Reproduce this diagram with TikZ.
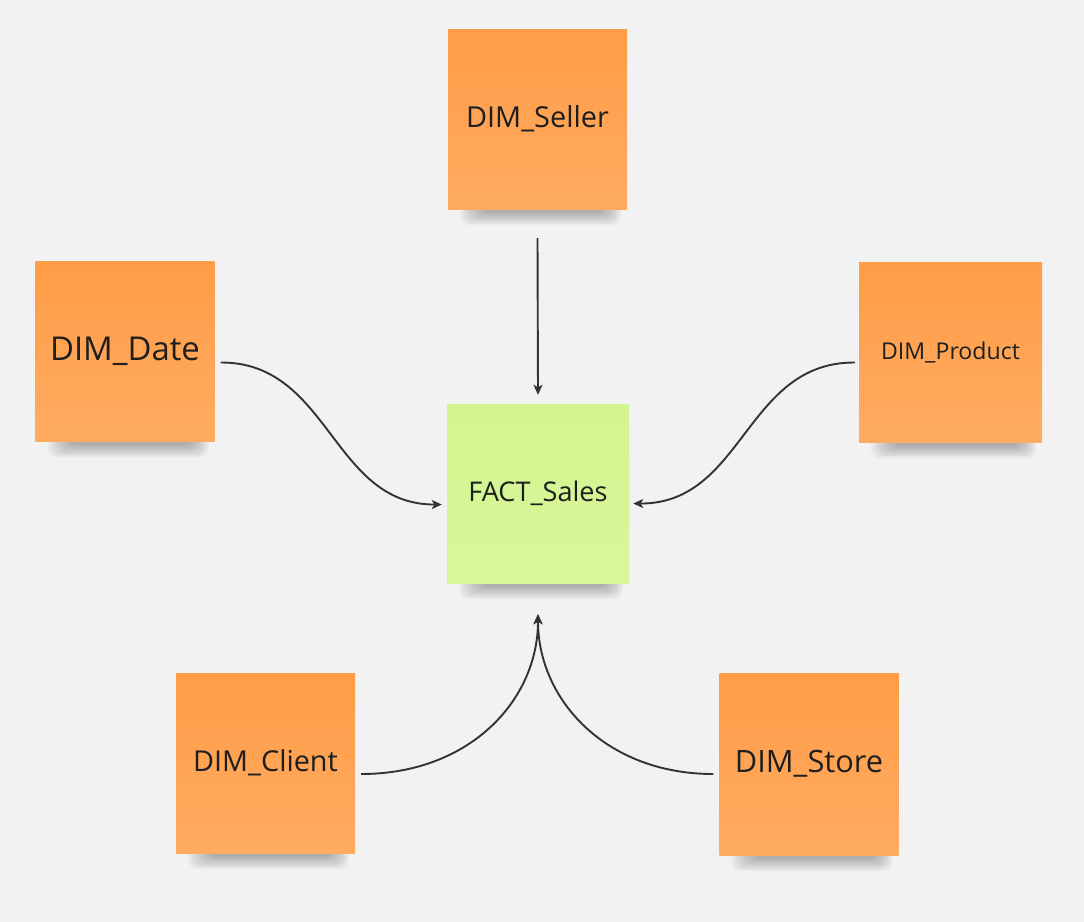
\documentclass[tikz,border=0pt]{standalone}
\usepackage{fontspec}
\setmainfont{Open Sans}
\usetikzlibrary{arrows.meta}
\pgfdeclarelayer{bglayer}
\pgfdeclarelayer{shadelayer}
\pgfsetlayers{bglayer,shadelayer,main}
\definecolor{bg}{HTML}{F2F2F2}
\definecolor{orA}{HTML}{FF9C48}
\definecolor{orB}{HTML}{FFAC60}
\definecolor{grA}{HTML}{D3F58F}
\definecolor{grB}{HTML}{D8F79A}
\definecolor{ink}{HTML}{1E1E1E}
\definecolor{wire}{HTML}{333333}
\tikzset{
  note/.style={rectangle, inner sep=0pt, text=ink, minimum width=179bp, minimum height=180bp},
  dimnote/.style={note, top color=orA, bottom color=orB},
  factnote/.style={note, top color=grA, bottom color=grB},
  link/.style={draw=wire, line width=1.9bp, -{Stealth[length=10bp,width=9bp,inset=2.5bp]}},
  shadestep/.style={fill=black, opacity=0.028, rounded corners=9bp},
}
\newcommand\myshadow[1]{%
  \begin{pgfonlayer}{shadelayer}
  \foreach \i in {0,...,10}{%
    \fill[shadestep] ([xshift={34bp-2.2bp*\i},yshift=8bp]#1.south west) rectangle ([xshift={-22bp+1.6bp*\i},yshift={-3bp-1.3bp*\i}]#1.south east);
  }
  \end{pgfonlayer}}
\begin{document}
\begin{tikzpicture}[x=1bp,y=-1bp]
\begin{pgfonlayer}{bglayer}
\fill[bg] (0,0) rectangle (1084,922);
\end{pgfonlayer}
\useasboundingbox (0,0) rectangle (1084,922);
\node[dimnote, font=\fontsize{29}{34}\selectfont] (seller) at (537.5,119) {DIM\_Seller};
\node[dimnote, font=\fontsize{33}{38}\selectfont] (date) at (125,351.5) {DIM\_Date};
\node[dimnote, minimum width=183bp, font=\fontsize{23.2}{28}\selectfont] (product) at (950.5,352.5) {DIM\_Product};
\node[factnote, minimum width=182bp, minimum height=179bp, font=\fontsize{27.2}{32}\selectfont] (fact) at (538,493.5) {FACT\_Sales};
\node[dimnote, font=\fontsize{28.9}{34}\selectfont] (client) at (265.5,763) {DIM\_Client};
\node[dimnote, minimum height=182bp, font=\fontsize{30.9}{36}\selectfont] (store) at (809,764) {DIM\_Store};
\myshadow{seller}\myshadow{date}\myshadow{product}\myshadow{fact}\myshadow{client}\myshadow{store}

\coordinate (sellerout) at ([yshift=-29bp]seller.south);
\coordinate (factin) at ([yshift=-31bp]fact.south);
\draw[link] (sellerout) -- ([yshift=9bp]fact.north);
\draw[link] ([xshift=6bp,yshift=-11bp]date.east) .. controls (330,362) and (332,505) .. ([xshift=-5bp,yshift=-11bp]fact.west);
\draw[link] ([xshift=-4bp,yshift=-10bp]product.west) .. controls (745,362) and (744,504) .. ([xshift=4bp,yshift=-10bp]fact.east);
\draw[link] ([xshift=6bp,yshift=-11bp]client.east) .. controls (470,774) and (538,700) .. (factin);
\draw[link] ([xshift=-6bp,yshift=-10bp]store.west) .. controls (606,774) and (538,700) .. (factin);
\end{tikzpicture}
\end{document}
